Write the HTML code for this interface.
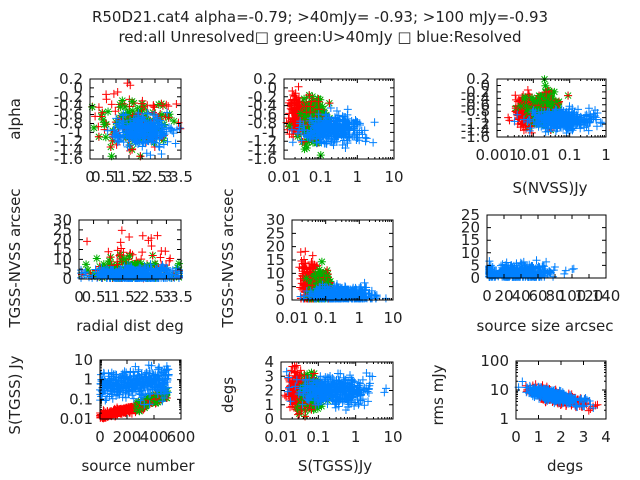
<!DOCTYPE html>
<html><head><meta charset="utf-8"><style>
html,body{margin:0;padding:0;background:#fff;}
svg{display:block;font-family:"DejaVu Sans","Liberation Sans",sans-serif;}
</style></head><body>
<svg id="s" width="640" height="480" xmlns="http://www.w3.org/2000/svg">
<rect width="640" height="480" fill="#fff"/>
<text x="320" y="22" font-size="15" text-anchor="middle" fill="#222">R50D21.cat4 alpha=-0.79; &gt;40mJy= -0.93; &gt;100 mJy=-0.93</text>
<text x="320" y="42" font-size="15" text-anchor="middle" fill="#222">red:all Unresolved□ green:U&gt;40mJy □ blue:Resolved</text>
<text transform="translate(20,119) rotate(-90)" font-size="15" text-anchor="middle" fill="#222">alpha</text>
<text x="550" y="193" font-size="15" text-anchor="middle" fill="#222">S(NVSS)Jy</text>
<text transform="translate(20,258) rotate(-90)" font-size="15" text-anchor="middle" fill="#222">TGSS-NVSS arcsec</text>
<text x="130" y="331" font-size="15" text-anchor="middle" fill="#222">radial dist deg</text>
<text transform="translate(233,258) rotate(-90)" font-size="15" text-anchor="middle" fill="#222">TGSS-NVSS arcsec</text>
<text x="545" y="331" font-size="15" text-anchor="middle" fill="#222">source size arcsec</text>
<text transform="translate(20,395) rotate(-90)" font-size="15" text-anchor="middle" fill="#222">S(TGSS) Jy</text>
<text x="138" y="471" font-size="15" text-anchor="middle" fill="#222">source number</text>
<text transform="translate(233,395) rotate(-90)" font-size="15" text-anchor="middle" fill="#222">degs</text>
<text x="335" y="471" font-size="15" text-anchor="middle" fill="#222">S(TGSS)Jy</text>
<text transform="translate(443,395) rotate(-90)" font-size="15" text-anchor="middle" fill="#222">rms mJy</text>
<text x="565" y="471" font-size="15" text-anchor="middle" fill="#222">degs</text>
<g id="g"></g>
</svg>
<script>
(function(){
var seed=12345;function r(){seed=(seed*16807)%2147483647;return seed/2147483647;}
function gs(){return Math.sqrt(-2*Math.log(r()+1e-9))*Math.cos(2*Math.PI*r());}
var out=[];
var R='#ff0000',G='#00b000',B='#0080ff';
function alphaT(){var a=[];for(var i=0;i<10;i++){var v=0.2-0.2*i;a.push([1-i/9,(Math.abs(v)<1e-9?'0':v.toFixed(1).replace(/\.0$/,''))]);}return a;}
function lin(a,b,st){var t=[];for(var v=a;v<=b+1e-9;v+=st){t.push([(v-a)/(b-a),String(+v.toFixed(2))]);}return t;}
function lg(labels){var n=labels.length-1;return labels.map(function(l,i){return [i/n,l];});}
function panel(p){
 var x0=p.b[0],y0=p.b[1],x1=p.b[2],y1=p.b[3],w=x1-x0,h=y1-y0;
 p.c.forEach(function(c){
  for(var i=0;i<c.n;i++){
   var q=c.f(i/c.n);var fx=q[0],fy=q[1];
   if(fx<0||fx>1||fy<0||fy>1)continue;
   var px=x0+fx*w,py=y1-fy*h,s=4;
   var col=c.col;
   out.push('<path d="M'+(px-s)+' '+py+'h'+(2*s)+'M'+px+' '+(py-s)+'v'+(2*s)+(c.star?'M'+(px-3)+' '+(py-3)+'l6 6M'+(px-3)+' '+(py+3)+'l6 -6':'')+'" stroke="'+col+'" stroke-width="1" fill="none"/>');
   if(c.star&&r()<0.5)out.push('<path d="M'+(px-s)+' '+py+'h'+(2*s)+'M'+px+' '+(py-s)+'v'+(2*s)+'" stroke="'+R+'" stroke-width="1" fill="none"/>');
  }
 });
 out.push('<rect x="'+x0+'" y="'+y0+'" width="'+w+'" height="'+h+'" fill="none" stroke="#000" stroke-width="1"/>');
 p.xt.forEach(function(t){var x=x0+t[0]*w;
  out.push('<path d="M'+x+' '+y1+'v-4M'+x+' '+y0+'v4" stroke="#000"/>');
  out.push('<text x="'+x+'" y="'+(y1+23)+'" font-size="15" text-anchor="middle" fill="#222">'+t[1]+'</text>');});
 p.yt.forEach(function(t){var y=y1-t[0]*h;
  out.push('<path d="M'+x0+' '+y+'h4M'+x1+' '+y+'h-4" stroke="#000"/>');
  out.push('<text x="'+(x0-7)+'" y="'+(y+5)+'" font-size="15" text-anchor="end" fill="#222">'+t[1]+'</text>');});
 if(p.lx){var n=p.lx;for(var d=0;d<n;d++)for(var k=2;k<10;k++){var x=x0+(d+Math.log10(k))/n*w;out.push('<path d="M'+x+' '+y1+'v-2M'+x+' '+y0+'v2" stroke="#000"/>');}}
 if(p.ly){var n=p.ly;for(var d=0;d<n;d++)for(var k=2;k<10;k++){var y=y1-(d+Math.log10(k))/n*h;out.push('<path d="M'+x0+' '+y+'h2M'+x1+' '+y+'h-2" stroke="#000"/>');}}
}
function N(mx,sx,my,sy){return function(){return [mx+sx*gs(),my+sy*gs()];};}
function cl(f){return function(t){var q=f(t);return [Math.min(Math.max(q[0],0.02),0.98),Math.min(Math.max(q[1],0.02),0.98)];};}
var x35=lin(0,3.5,0.5);
panel({b:[90,79,181,159],xt:x35,yt:alphaT(),c:[
 {n:90,col:R,f:N(.5,.25,.5,.2)},{n:120,col:G,star:1,f:N(.5,.22,.45,.15)},{n:300,col:B,f:N(.55,.16,.35,.09)}]});
panel({b:[284,79,394,159],xt:lg(['0.01','0.1','1','10']),lx:3,yt:alphaT(),c:[
 {n:250,col:R,f:N(.13,.04,.55,.12)},{n:200,col:G,star:1,f:N(.27,.05,.45,.15)},{n:350,col:B,f:N(.45,.14,.37,.08)}]});
panel({b:[497,79,606,137],xt:lg(['0.001','0.01','0.1','1']),lx:3,yt:alphaT(),c:[
 {n:250,col:R,f:N(.28,.06,.45,.12)},{n:200,col:G,star:1,f:N(.42,.07,.5,.14)},{n:350,col:B,f:N(.6,.15,.3,.08)}]});
panel({b:[79,220,181,279],xt:x35,yt:lin(0,30,5),c:[
 {n:70,col:R,f:N(.55,.25,.25,.25)},{n:100,col:G,star:1,f:cl(N(.5,.25,.15,.12))},{n:400,col:B,f:cl(N(.55,.2,.08,.06))}]});
panel({b:[292,220,393,300],xt:lg(['0.01','0.1','1','10']),lx:3,yt:lin(0,30,5),c:[
 {n:220,col:R,f:cl(N(.17,.04,.2,.15))},{n:180,col:G,star:1,f:cl(N(.28,.05,.15,.12))},{n:400,col:B,f:cl(N(.48,.15,.06,.05))}]});
panel({b:[487,215,606,278],xt:lin(0,140,20),yt:lin(0,25,5),c:[
 {n:350,col:B,f:cl(N(.25,.15,.08,.07))}]});
panel({b:[100,360,181,419],xt:[[0,'0'],[1/3,'200'],[2/3,'400'],[1,'600']],yt:lg(['0.01','0.1','1','10']),ly:3,c:[
 {n:300,col:R,f:function(t){var x=t*.55;return [x,.05+x*.3+.03*gs()];}},
 {n:150,col:G,star:1,f:function(t){var x=.45+t*.38;return [x,.2+(x-.45)*.6+.04*gs()];}},
 {n:350,col:B,f:function(t){var x=t*.85;return [x,.55+.12*gs()+x*.1];}}]});
panel({b:[281,362,393,419],xt:lg(['0.01','0.1','1','10']),lx:3,yt:lin(0,4,1),c:[
 {n:250,col:R,f:cl(N(.15,.04,.5,.15))},{n:200,col:G,star:1,f:cl(N(.26,.05,.45,.15))},{n:400,col:B,f:cl(N(.48,.15,.5,.12))}]});
panel({b:[516,361,606,419],xt:lin(0,4,1),yt:lg(['1','10','100']),ly:2,c:[
 {n:250,col:R,f:function(){var x=.45+.15*gs();return [x,.38-(x-.45)*.4+.05*gs()];}},
 {n:350,col:B,f:function(){var x=.42+.15*gs();return [x,.4-(x-.42)*.4+.05*gs()];}}]});
document.getElementById('g').innerHTML=out.join('');
})();
</script>
</body></html>
